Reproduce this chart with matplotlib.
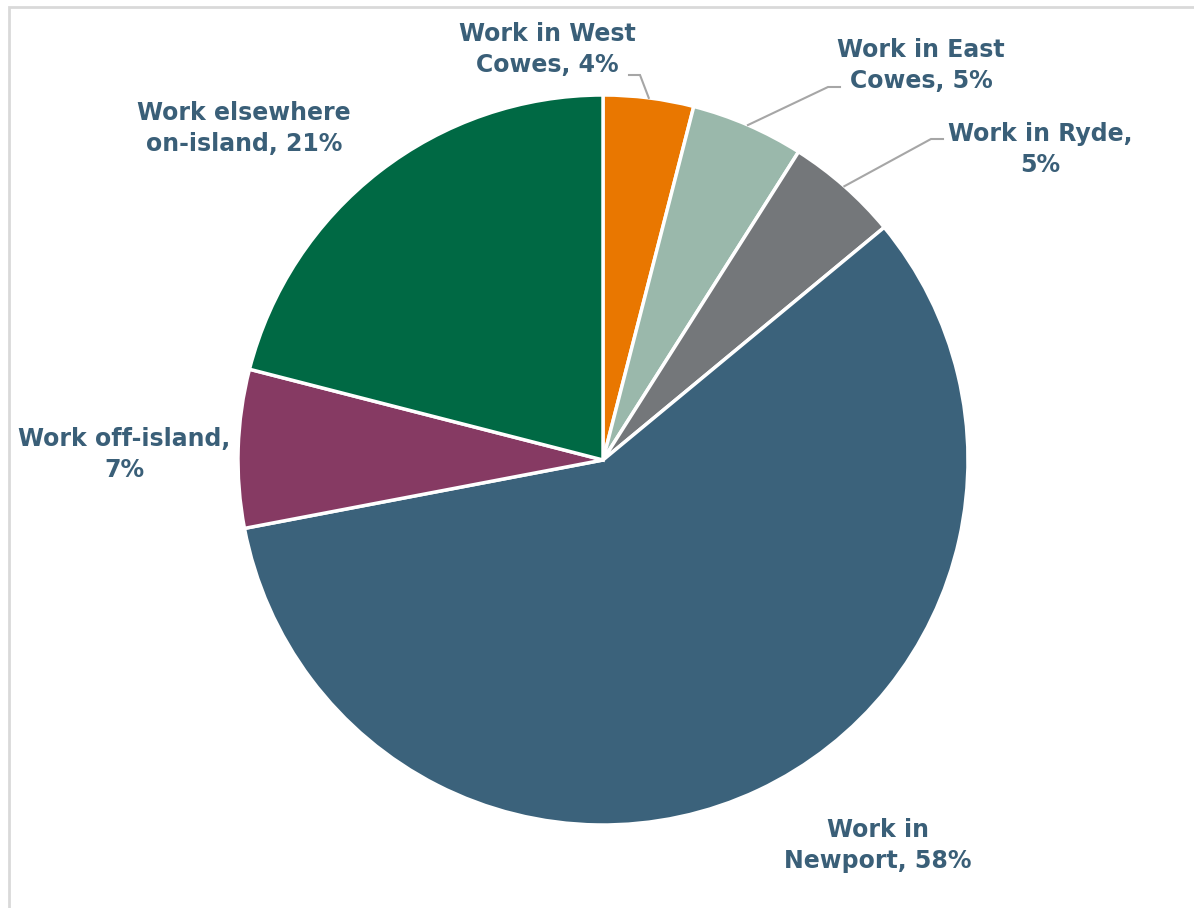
import matplotlib
matplotlib.use("Agg")
import matplotlib.pyplot as plt
import numpy as np

# Where residents work
names = ["Work in West Cowes", "Work in East Cowes", "Work in Ryde",
         "Work in Newport", "Work off-island", "Work elsewhere on-island"]
shares = [4, 5, 5, 58, 7, 21]
colors = ["#E97700", "#9AB8AB", "#74777A", "#3B627B", "#863A63", "#006944"]

TEXT = "#3A5F78"
LEADER = "#A6A6A6"

W, H = 1194, 908
fig = plt.figure(figsize=(W / 100, H / 100), dpi=100)

# pie centre and radius in pixels
cx, cy, R = 603, 460, 365
ax = fig.add_axes([(cx - R) / W, (H - cy - R) / H, 2 * R / W, 2 * R / H])
wedges, _ = ax.pie(shares, colors=colors, startangle=90, counterclock=False,
                   radius=1.0, wedgeprops=dict(edgecolor="white", linewidth=2.5))
ax.set_xlim(-1, 1)
ax.set_ylim(-1, 1)
ax.set_aspect("equal")
ax.axis("off")


def px(x, y):
    """pixel position -> data coordinates of the pie axes"""
    return (x - cx) / R, (cy - y) / R


# label layout: text format, (centre x, last baseline y) in pixels, leader elbow and end
label_lines = [
    ("Work in West\nCowes, {}%", (547, 72), (640, 75), (629, 75)),
    ("Work in East\nCowes, {}%", (921, 88), (828, 87), (840, 87)),
    ("Work in Ryde,\n{}%", (1040, 172), (931, 139), (943, 139)),
    ("Work in\nNewport, {}%", (878, 868), None, None),
    ("Work off-island,\n{}%", (124, 477), None, None),
    ("Work elsewhere\non-island, {}%", (244, 151), None, None),
]

for wedge, share, (fmt, (tx, ty), elbow, end) in zip(wedges, shares, label_lines):
    x, y = px(tx, ty)
    ax.text(x, y, fmt.format(share), ha="center", va="baseline", color=TEXT,
            fontsize=17, fontweight="bold", family="DejaVu Sans",
            linespacing=1.36, multialignment="center")
    if elbow is not None:
        mid = np.deg2rad((wedge.theta1 + wedge.theta2) / 2)
        sx, sy = np.cos(mid), np.sin(mid)
        ex, ey = px(*elbow)
        nx, ny = px(*end)
        ax.plot([sx, ex, nx], [sy, ey, ny], color=LEADER, lw=1.5,
                solid_joinstyle="miter", clip_on=False)

# light frame of the chart area
frame = plt.Rectangle((8.5 / W, -0.01), 1.0, (H - 6.5) / H + 0.01, transform=fig.transFigure,
                      fill=False, edgecolor="#D9D9D9", lw=2)
fig.patches.append(frame)

fig.savefig("out.png", dpi=100)
